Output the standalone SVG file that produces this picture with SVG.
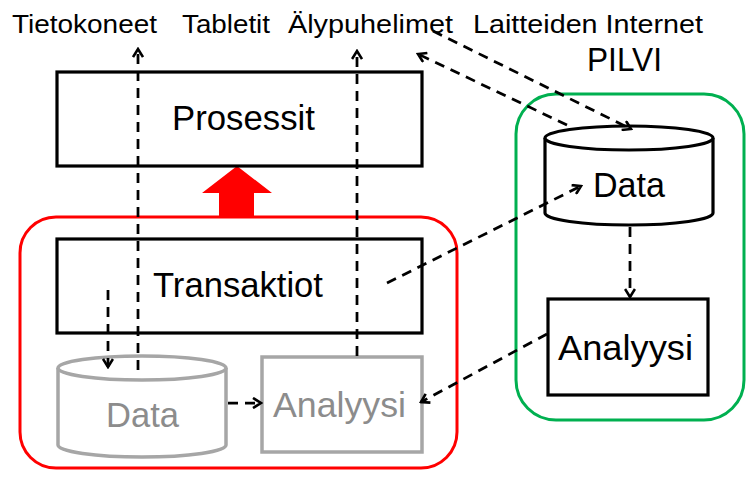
<svg xmlns="http://www.w3.org/2000/svg" width="747" height="482" viewBox="0 0 747 482">
  <defs>
    <style>
      text { font-family: "Liberation Sans", Arial, sans-serif; fill: #000; }
      .lbl { font-size: 25px; }
      .big { font-size: 35px; text-anchor: start; }
      .box { fill: #fff; stroke: #000; stroke-width: 3.2; }
      .gray { fill: #fff; stroke: #a6a6a6; stroke-width: 3.5; }
      .grayt { fill: #8c8c8c; }
      .dash { fill: none; stroke: #000; stroke-width: 2.75; stroke-dasharray: 10 7; marker-end: url(#arr); }
    </style>
    <marker id="arr" viewBox="0 0 12 12" refX="10" refY="6" markerWidth="12" markerHeight="12" markerUnits="userSpaceOnUse" orient="auto">
      <path d="M2,1 L10,6 L2,11" fill="none" stroke="#000" stroke-width="2.6"/>
    </marker>
  </defs>

  <!-- device labels along the top -->
  <g id="labels">
    <text class="lbl" x="12" y="33" textLength="145" lengthAdjust="spacingAndGlyphs">Tietokoneet</text>
    <text class="lbl" x="182" y="33" textLength="88" lengthAdjust="spacingAndGlyphs">Tabletit</text>
    <text class="lbl" x="288" y="33" textLength="165" lengthAdjust="spacingAndGlyphs">Älypuhelimet</text>
    <text class="lbl" x="473" y="33" textLength="230" lengthAdjust="spacingAndGlyphs">Laitteiden Internet</text>
  </g>

  <!-- cloud container -->
  <g id="pilvi">
    <rect x="516" y="94" width="228" height="326" rx="40" fill="none" stroke="#00b050" stroke-width="3"/>
    <text x="587" y="71" style="font-size:33px" textLength="75" lengthAdjust="spacingAndGlyphs">PILVI</text>
  </g>

  <!-- local container -->
  <g id="local">
    <rect x="20" y="217" width="437" height="251" rx="36" fill="none" stroke="#ff0000" stroke-width="3"/>
  </g>

  <!-- upward arrow from local systems to processes -->
  <g id="upArrow">
    <polygon points="237,166 272,193 254,193 254,217 219,217 219,193 202,193" fill="#ff0000"/>
  </g>

  <g id="prosessit">
    <rect class="box" x="57" y="72" width="365" height="94"/>
    <text class="big" x="172" y="130" textLength="143" lengthAdjust="spacingAndGlyphs">Prosessit</text>
  </g>

  <g id="transaktiot">
    <rect class="box" x="57" y="239" width="365" height="94"/>
    <text class="big" x="153" y="297" textLength="170" lengthAdjust="spacingAndGlyphs">Transaktiot</text>
  </g>

  <g id="localData">
    <path class="gray" d="M58,368 L58,445 A84,12 0 0 0 226,445 L226,368"/>
    <ellipse class="gray" cx="142" cy="368" rx="84" ry="12"/>
    <text class="big grayt" x="106" y="427" textLength="73" lengthAdjust="spacingAndGlyphs">Data</text>
  </g>

  <g id="localAnalyysi">
    <rect class="gray" x="262" y="357" width="160" height="95"/>
    <text class="big grayt" x="273" y="417" textLength="133" lengthAdjust="spacingAndGlyphs">Analyysi</text>
  </g>

  <g id="cloudData">
    <path class="box" d="M545,138 L545,213 A84,12 0 0 0 713,213 L713,138"/>
    <ellipse class="box" cx="629" cy="138" rx="84" ry="12"/>
    <text class="big" x="593" y="197" textLength="72" lengthAdjust="spacingAndGlyphs">Data</text>
  </g>

  <g id="cloudAnalyysi">
    <rect class="box" x="548" y="299" width="160" height="96"/>
    <text class="big" x="558" y="360" textLength="135" lengthAdjust="spacingAndGlyphs">Analyysi</text>
  </g>

  <!-- dashed data flows -->
  <g id="connectors">
    <path class="dash" d="M138,370 L138,49"/>
    <path class="dash" d="M357,356 L357,51"/>
    <path class="dash" d="M108,290 L108,367"/>
    <path class="dash" d="M228,403 L261,403"/>
    <path class="dash" d="M387,283 L581,186"/>
    <path class="dash" d="M547,334 L421,402"/>
    <path class="dash" d="M630,227 L630,297"/>
    <path class="dash" d="M433,31 L631,129"/>
    <path class="dash" d="M567,125 L418,54"/>
  </g>
</svg>
